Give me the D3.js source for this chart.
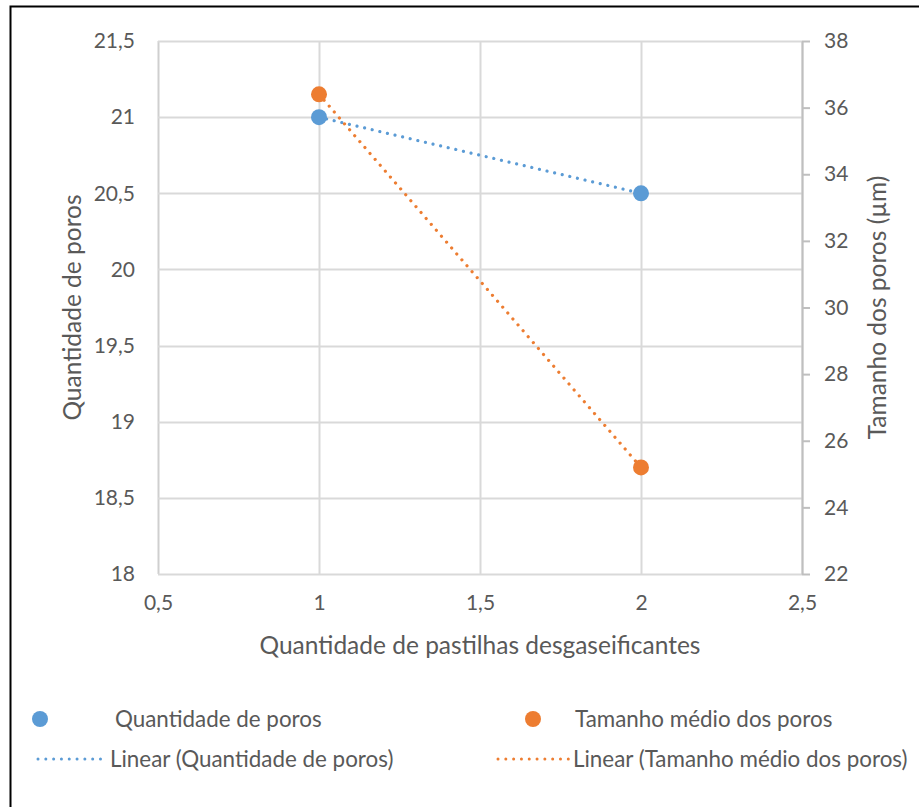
<!DOCTYPE html>
<html>
<head>
<meta charset="utf-8">
<script src="https://cdn.jsdelivr.net/npm/d3@7"></script>
<style>
  html, body { margin: 0; padding: 0; background: #fff; }
  svg { display: block; }
  text { font-family: Lato, "Open Sans", sans-serif; fill: #595959; }
</style>
</head>
<body>
<svg id="chart" width="919" height="807"></svg>
<script>
// Series data
const xValues = [1, 2];
const quantidadePoros = [21, 20.5];
const tamanhoMedio = [36.4, 25.2];

// Axis ticks
const xTicks = [0.5, 1, 1.5, 2, 2.5];
const leftTicks = [18, 18.5, 19, 19.5, 20, 20.5, 21, 21.5];
const rightTicks = [22, 24, 26, 28, 30, 32, 34, 36, 38];

// Labels
const xTitle = "Quantidade de pastilhas desgaseificantes";
const leftTitle = "Quantidade de poros";
const rightTitle = "Tamanho dos poros (µm)";
const seriesNames = ["Quantidade de poros", "Tamanho médio dos poros"];
const trendNames = ["Linear (Quantidade de poros)", "Linear (Tamanho médio dos poros)"];

const blue = "#5b9bd5";
const orange = "#ed7d31";
const gridColor = "#d9d9d9";
const axisColor = "#bfbfbf";
const tickFont = 21;
const titleFont = 24.5;
const legendFont = 22.4;
const markerR = 8;

const ptBR = d3.formatLocale({ decimal: ",", thousands: ".", grouping: [3], currency: ["R$", ""] });
const fmt = v => ptBR.format("~g")(v);

const svg = d3.select("#chart");

// Outer frame
svg.append("rect")
  .attr("x", 10.5).attr("y", 6.5)
  .attr("width", 1000).attr("height", 1000)
  .attr("fill", "none").attr("stroke", "#000").attr("stroke-width", 2);

const plot = { left: 158, right: 802, top: 41, bottom: 574 };

const x = d3.scaleLinear().domain([0.5, 2.5]).range([plot.left, plot.right]);
const yL = d3.scaleLinear().domain([18, 21.5]).range([plot.bottom, plot.top]);
const yR = d3.scaleLinear().domain([22, 38]).range([plot.bottom, plot.top]);

// Gridlines
const grid = svg.append("g");
grid.selectAll(".vg").data(xTicks).join("line")
  .attr("x1", d => Math.round(x(d)) + 0.5).attr("x2", d => Math.round(x(d)) + 0.5)
  .attr("y1", plot.top).attr("y2", plot.bottom)
  .attr("stroke", (d, i) => i === 0 ? "#cfcfcf" : gridColor).attr("stroke-width", 2);
grid.selectAll(".hg").data(leftTicks).join("line")
  .attr("x1", plot.left).attr("x2", plot.right)
  .attr("y1", d => Math.round(yL(d)) + 0.5).attr("y2", d => Math.round(yL(d)) + 0.5)
  .attr("stroke", gridColor).attr("stroke-width", 2);

// Left axis labels
const leftAxis = d3.axisLeft(yL).tickValues(leftTicks).tickFormat(fmt).tickSize(0).tickPadding(23);
const gL = svg.append("g").attr("transform", `translate(${plot.left},0)`).call(leftAxis);
gL.select(".domain").remove();
gL.selectAll("text").attr("font-size", tickFont).attr("fill", "#595959").style("font-family", "Lato, sans-serif");

// Bottom axis labels
const bottomAxis = d3.axisBottom(x).tickValues(xTicks).tickFormat(fmt).tickSize(0).tickPadding(21);
const gB = svg.append("g").attr("transform", `translate(0,${plot.bottom})`).call(bottomAxis);
gB.select(".domain").remove();
gB.selectAll("text").attr("font-size", tickFont).attr("fill", "#595959").style("font-family", "Lato, sans-serif");

// Right axis with line and outward ticks
const rightAxis = d3.axisRight(yR).tickValues(rightTicks).tickFormat(d => d).tickSizeInner(8).tickSizeOuter(0).tickPadding(14);
const gR = svg.append("g").attr("transform", `translate(${plot.right},0)`).call(rightAxis);
gR.select(".domain").attr("stroke", axisColor).attr("stroke-width", 2);
gR.selectAll(".tick line").attr("stroke", axisColor).attr("stroke-width", 2);
gR.selectAll("text").attr("font-size", tickFont).attr("fill", "#595959").style("font-family", "Lato, sans-serif");

// Axis titles
svg.append("text").attr("x", 480).attr("y", 645).attr("dy", "0.35em").attr("text-anchor", "middle")
  .attr("font-size", titleFont).text(xTitle);
svg.append("text").attr("transform", `translate(72,${(plot.top + plot.bottom) / 2}) rotate(-90)`)
  .attr("dy", "0.35em").attr("text-anchor", "middle").attr("font-size", titleFont).text(leftTitle);
svg.append("text").attr("transform", `translate(877,${(plot.top + plot.bottom) / 2}) rotate(-90)`)
  .attr("dy", "0.35em").attr("text-anchor", "middle").attr("font-size", titleFont).text(rightTitle);

// Linear trendlines (fit over the data range)
function linearFit(xs, ys) {
  const n = xs.length;
  const mx = d3.mean(xs), my = d3.mean(ys);
  let sxy = 0, sxx = 0;
  for (let i = 0; i < n; i++) { sxy += (xs[i] - mx) * (ys[i] - my); sxx += (xs[i] - mx) ** 2; }
  const b = sxy / sxx, a = my - b * mx;
  return v => a + b * v;
}
const ext = d3.extent(xValues);
const fitQ = linearFit(xValues, quantidadePoros);
const fitT = linearFit(xValues, tamanhoMedio);

const dotted = { width: 3.2, dash: "0.01 7.8" };

svg.append("line")
  .attr("x1", x(ext[0])).attr("y1", yL(fitQ(ext[0])))
  .attr("x2", x(ext[1])).attr("y2", yL(fitQ(ext[1])))
  .attr("stroke", blue).attr("stroke-width", dotted.width)
  .attr("stroke-linecap", "round").attr("stroke-dasharray", dotted.dash);
svg.append("line")
  .attr("x1", x(ext[0])).attr("y1", yR(fitT(ext[0])))
  .attr("x2", x(ext[1])).attr("y2", yR(fitT(ext[1])))
  .attr("stroke", orange).attr("stroke-width", dotted.width)
  .attr("stroke-linecap", "round").attr("stroke-dasharray", dotted.dash);

// Markers
svg.append("g").selectAll("circle").data(xValues).join("circle")
  .attr("cx", (d) => x(d)).attr("cy", (d, i) => yL(quantidadePoros[i]))
  .attr("r", markerR).attr("fill", blue);
svg.append("g").selectAll("circle").data(xValues).join("circle")
  .attr("cx", (d) => x(d)).attr("cy", (d, i) => yR(tamanhoMedio[i]))
  .attr("r", markerR).attr("fill", orange);

// Legend
const legend = svg.append("g");
const legendRows = [
  { type: "dot", color: blue, label: seriesNames[0], sx: 40, tx: 115, y: 719 },
  { type: "dot", color: orange, label: seriesNames[1], sx: 533, tx: 575, y: 719 },
  { type: "line", color: blue, label: trendNames[0], x1: 38, x2: 108, tx: 110, y: 759 },
  { type: "line", color: orange, label: trendNames[1], x1: 498, x2: 570, tx: 573, y: 759 }
];
legendRows.forEach(r => {
  if (r.type === "dot") {
    legend.append("circle").attr("cx", r.sx).attr("cy", r.y).attr("r", markerR).attr("fill", r.color);
  } else {
    legend.append("line").attr("x1", r.x1).attr("x2", r.x2).attr("y1", r.y).attr("y2", r.y)
      .attr("stroke", r.color).attr("stroke-width", 3)
      .attr("stroke-linecap", "round").attr("stroke-dasharray", "0.01 7.8");
  }
  legend.append("text").attr("x", r.tx).attr("y", r.y).attr("dy", "0.35em")
    .attr("font-size", legendFont).text(r.label);
});
</script>
</body>
</html>
